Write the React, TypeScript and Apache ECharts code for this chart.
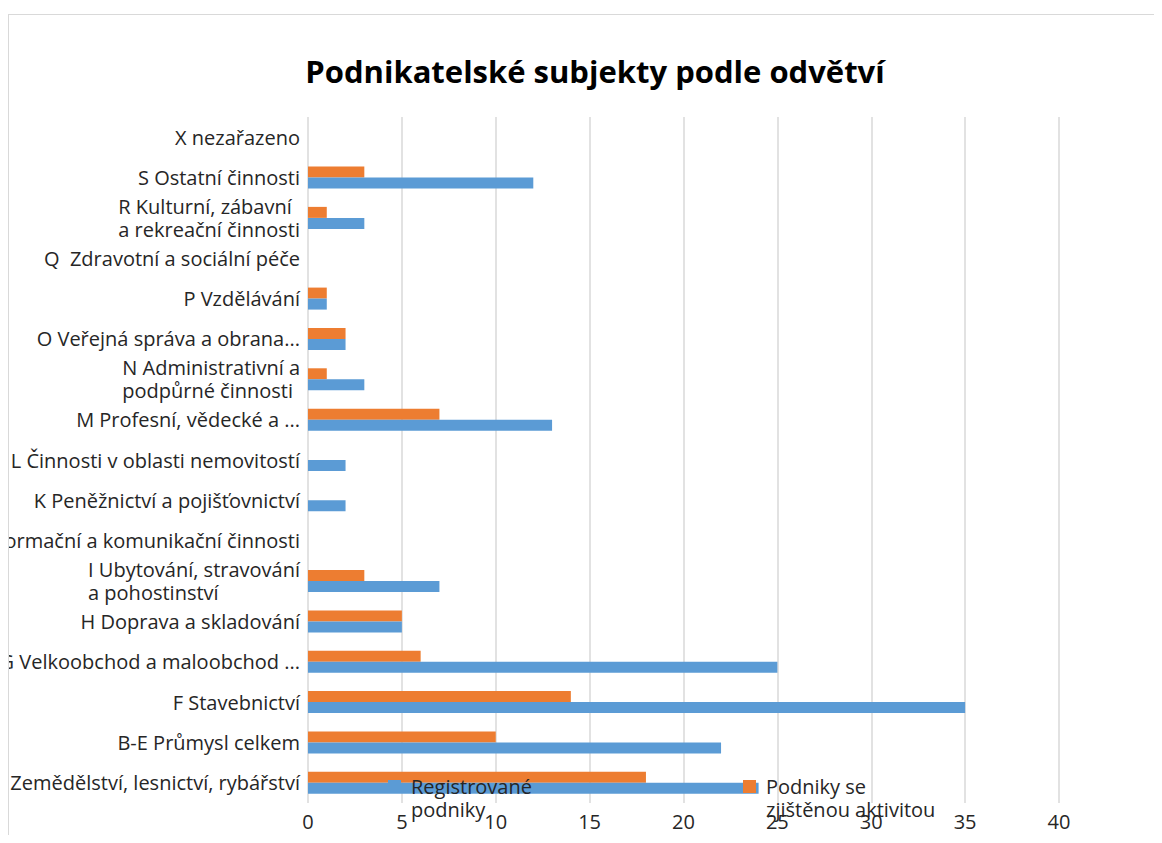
import React, { useEffect, useRef } from "react";
import * as echarts from "echarts";

const categories = [
  "A Zemědělství, lesnictví, rybářství",
  "B-E Průmysl celkem",
  "F Stavebnictví",
  "G Velkoobchod a maloobchod ...",
  "H Doprava a skladování",
  "I Ubytování, stravování a pohostinství",
  "J Informační a komunikační činnosti",
  "K Peněžnictví a pojišťovnictví",
  "L Činnosti v oblasti nemovitostí",
  "M Profesní, vědecké a ...",
  "N Administrativní a podpůrné činnosti",
  "O Veřejná správa a obrana...",
  "P Vzdělávání",
  "Q  Zdravotní a sociální péče",
  "R Kulturní, zábavní a rekreační činnosti",
  "S Ostatní činnosti",
  "X nezařazeno",
];

const registrovane = [24, 22, 35, 25, 5, 7, 0, 2, 2, 13, 3, 2, 1, 0, 3, 12, 0];
const aktivni = [18, 10, 14, 6, 5, 3, 0, 0, 0, 7, 1, 2, 1, 0, 1, 3, 0];

const seriesNames = ["Registrované podniky", "Podniky se zjištěnou aktivitou"];
const xTicks = [0, 5, 10, 15, 20, 25, 30, 35, 40];

const wrappedLabels: Record<string, string[]> = {
  "I Ubytování, stravování a pohostinství": ["I Ubytování, stravování", "a pohostinství"],
  "N Administrativní a podpůrné činnosti": ["N Administrativní a", "podpůrné činnosti"],
  "R Kulturní, zábavní a rekreační činnosti": ["R Kulturní, zábavní", "a rekreační činnosti"],
};
const legendLines: Record<string, string> = {
  "Registrované podniky": " \nRegistrované\npodniky",
  "Podniky se zjištěnou aktivitou": " \nPodniky se\nzjištěnou aktivitou",
};

const FONT = "'Open Sans', 'Noto Sans', sans-serif";
const TEXT = "#262626";
const FS = 20;

export default function App() {
  const ref = useRef<HTMLDivElement>(null);
  useEffect(() => {
    if (!ref.current) return;
    const chart = echarts.init(ref.current, null, { renderer: "svg" });
    const legendText = {
      fontFamily: FONT,
      fontSize: FS,
      color: TEXT,
      lineHeight: 23,
      padding: [0, 0, 0, 5],
    };
    chart.setOption({
      animation: false,
      textStyle: { fontFamily: FONT },
      title: {
        text: "Podnikatelské subjekty podle odvětví",
        left: 581,
        textAlign: "center",
        top: 35,
        textStyle: { fontFamily: FONT, fontSize: 31, fontWeight: "bold", color: "#000" },
      },
      legend: [
        {
          data: [seriesNames[0]],
          left: 379,
          top: 737,
          padding: 0,
          itemWidth: 13,
          itemHeight: 13,
          icon: "rect",
          formatter: (n: string) => legendLines[n] || n,
          textStyle: legendText,
        },
        {
          data: [seriesNames[1]],
          left: 734,
          top: 737,
          padding: 0,
          itemWidth: 13,
          itemHeight: 13,
          icon: "rect",
          formatter: (n: string) => legendLines[n] || n,
          textStyle: legendText,
        },
      ],
      grid: {
        left: 299,
        right: 103,
        top: 102,
        bottom: 32,
        containLabel: false,
        outerBoundsMode: "none",
      },
      xAxis: {
        type: "value",
        min: xTicks[0],
        max: xTicks[xTicks.length - 1],
        interval: xTicks[1] - xTicks[0],
        axisLine: { show: false },
        axisTick: { show: false },
        splitLine: { lineStyle: { color: "#d9d9d9", width: 1.5 } },
        axisLabel: { fontFamily: FONT, fontSize: FS, color: TEXT, margin: 8 },
      },
      yAxis: {
        type: "category",
        data: categories,
        axisLine: { show: false },
        axisTick: { show: false },
        axisLabel: {
          fontFamily: FONT,
          fontSize: FS,
          color: TEXT,
          margin: 8,
          lineHeight: 23,
          formatter: (v: string) =>
            wrappedLabels[v] ? wrappedLabels[v].map((l) => `{l|${l}}`).join("\n") : v,
          rich: {
            l: { align: "left", fontFamily: FONT, fontSize: FS, color: TEXT, lineHeight: 23 },
          },
        },
      },
      series: [
        {
          name: seriesNames[1],
          type: "bar",
          data: aktivni,
          barWidth: 11,
          barGap: "0%",
          itemStyle: { color: "#ED7D31" },
        },
        {
          name: seriesNames[0],
          type: "bar",
          data: registrovane,
          barWidth: 11,
          barGap: "0%",
          itemStyle: { color: "#5B9BD5" },
        },
      ],
    });
    return () => chart.dispose();
  }, []);
  return (
    <div style={{ paddingTop: 6 }}>
      <div
        style={{
          width: 1153,
          height: 820,
          borderTop: "1px solid #d9d9d9",
          borderLeft: "1px solid #d9d9d9",
        }}
      >
        <div ref={ref} style={{ width: 1153, height: 820 }} />
      </div>
    </div>
  );
}
